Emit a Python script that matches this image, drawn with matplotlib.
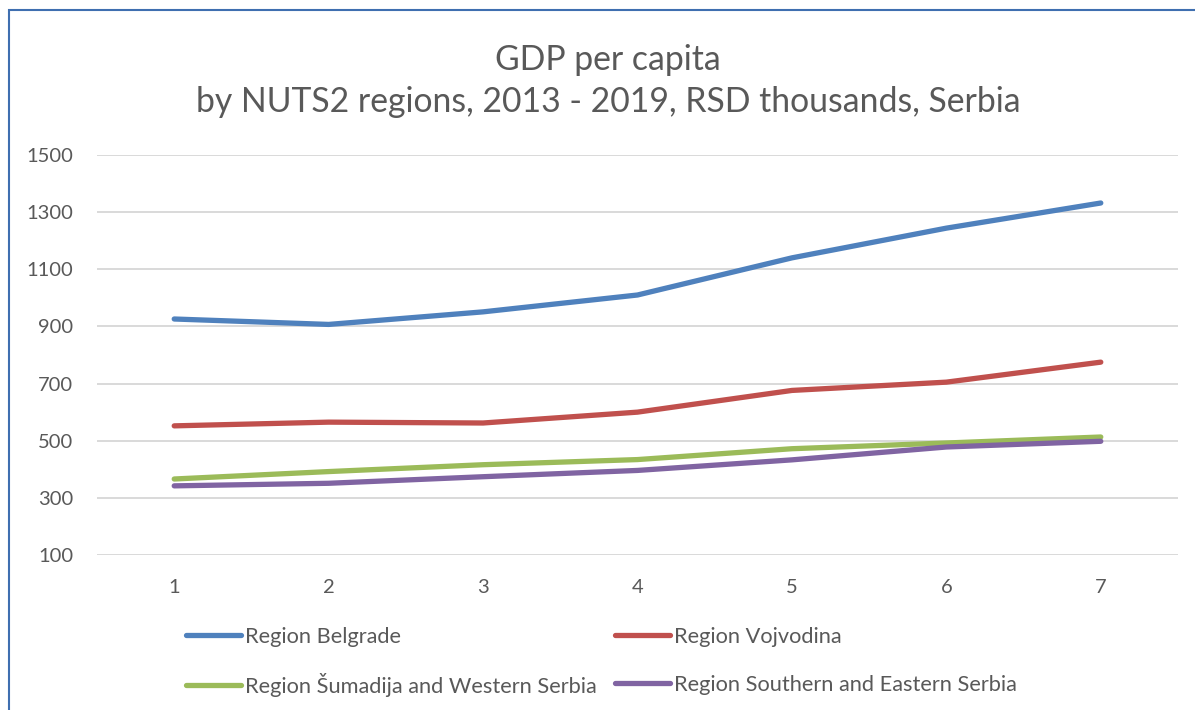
import matplotlib
matplotlib.use("Agg")
import matplotlib.pyplot as plt
from matplotlib.patches import Rectangle


years = [1, 2, 3, 4, 5, 6, 7]

belgrade = [926, 907, 951, 1010, 1140, 1244, 1332]
vojvodina = [552, 565, 562, 600, 676, 705, 775]
sumadija = [366, 392, 416, 434, 472, 492, 513]
southern = [342, 351, 374, 396, 433, 478, 498]

series = [
    ("Region Belgrade", belgrade, "#4F81BD"),
    ("Region Vojvodina", vojvodina, "#C0504D"),
    ("Region Šumadija and Western Serbia", sumadija, "#9BBB59"),
    ("Region Southern and Eastern Serbia", southern, "#8064A2"),
]

y_ticks = [100, 300, 500, 700, 900, 1100, 1300, 1500]
title = "GDP per capita\nby NUTS2 regions, 2013 - 2019, RSD thousands, Serbia"

text_color = "#595959"
plt.rcParams["font.family"] = ["Lato", "DejaVu Sans"]

fig = plt.figure(figsize=(11.95, 7.10), dpi=100)
ax = fig.add_axes([97 / 1195, 1 - 555 / 710, (1178 - 97) / 1195, 400 / 710])

lines = []
for name, values, color in series:
    (ln,) = ax.plot(years, values, color=color, lw=3.8,
                    solid_capstyle="round", solid_joinstyle="round", label=name)
    lines.append(ln)

ax.set_xlim(0.5, 7.5)
ax.set_ylim(100, 1500)
ax.set_yticks(y_ticks)
ax.set_xticks(years)
ax.grid(axis="y", color="#D9D9D9", lw=1.4)
ax.set_axisbelow(True)
for sp in ax.spines.values():
    sp.set_visible(False)
ax.tick_params(axis="both", length=0, labelsize=14.5, colors=text_color)
ax.tick_params(axis="y", pad=17)
ax.tick_params(axis="x", pad=17)

fig.text(608 / 1195, 1 - 81 / 710, title, ha="center", va="center",
         fontsize=24.3, color=text_color, linespacing=1.42)

# Excel lays the legend out on a fixed 2x2 grid, so place each entry on its own
legend_slots = [(186, 637), (615, 637), (186, 685), (615, 685)]
for ln, (px, py) in zip(lines, legend_slots):
    leg = fig.legend([ln], [ln.get_label()], loc="center left",
                     bbox_to_anchor=(px / 1195, 1 - py / 710),
                     frameon=False, fontsize=15.7, handlelength=2.5,
                     handletextpad=0.22, borderaxespad=0, borderpad=0)
    leg.get_texts()[0].set_color(text_color)

# chart border (only top and left edges are visible in the crop)
fig.add_artist(Rectangle((9 / 1195, -0.05), 1.2, 1 - 10 / 710 + 0.05,
                         transform=fig.transFigure, fill=False,
                         edgecolor="#3F6FB0", lw=1.5))

fig.savefig("out.png", dpi=100)
